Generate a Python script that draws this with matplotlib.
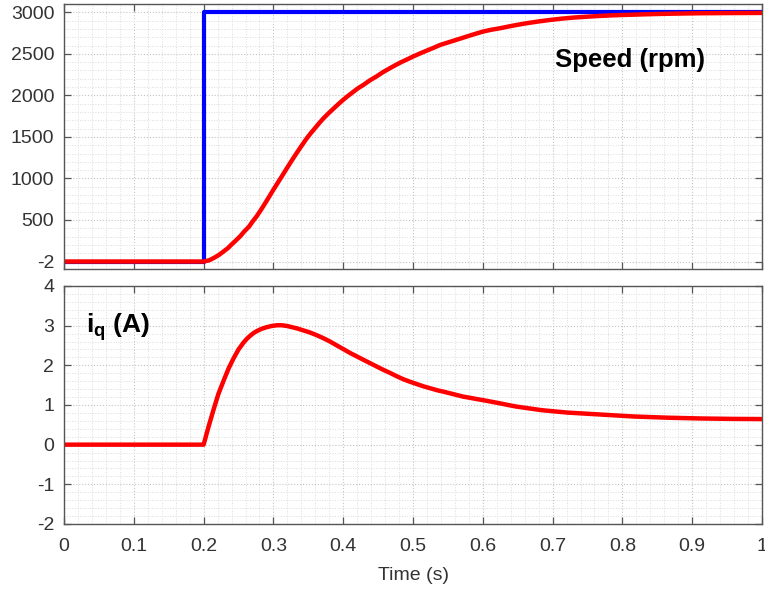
import matplotlib.pyplot as plt
from matplotlib.ticker import MultipleLocator

plt.rcParams['font.family'] = ['Liberation Sans', 'DejaVu Sans']
plt.rcParams['mathtext.fontset'] = 'custom'
plt.rcParams['mathtext.bf'] = 'Liberation Sans:bold'
plt.rcParams['mathtext.rm'] = 'Liberation Sans'
plt.rcParams['axes.unicode_minus'] = False

# ---------------- Data ---------------- #

ref_t = [0.0, 0.2, 0.2, 1.0]
ref_speed = [0, 0, 3000, 3000]

speed_t = [0.0, 0.2, 0.208, 0.215, 0.222, 0.229, 0.235, 0.24, 0.246, 0.2525,
           0.258, 0.265, 0.27, 0.276, 0.282, 0.288, 0.294, 0.300,
           0.306, 0.312, 0.318, 0.324, 0.330, 0.336, 0.342, 0.348, 0.354,
           0.36, 0.366, 0.372, 0.379, 0.386, 0.393, 0.4, 0.407, 0.414, 0.421,
           0.429, 0.438, 0.448, 0.457, 0.467, 0.475, 0.483, 0.492, 0.5, 0.51,
           0.52, 0.53, 0.539, 0.555, 0.57, 0.585, 0.6, 0.612, 0.625, 0.642,
           0.66, 0.678, 0.697, 0.713, 0.73, 0.75, 0.768, 0.784, 0.80, 0.82,
           0.84, 0.86, 0.88, 0.911, 0.95, 1.0]
speed_rpm = [0, 0, 15, 45, 80, 124, 163, 205, 252, 305,
             360, 420, 480, 545, 620, 700, 782, 865,
             945, 1025, 1106, 1186, 1264, 1340, 1414, 1486, 1550,
             1610, 1670, 1727, 1785, 1840, 1895, 1947, 1995, 2040, 2085,
             2127, 2180, 2230, 2280, 2328, 2365, 2400, 2435, 2468, 2505,
             2540, 2575, 2608, 2650, 2690, 2730, 2768, 2790, 2809, 2838,
             2865, 2888, 2909, 2924, 2937, 2948, 2957, 2963, 2968, 2973,
             2978, 2982, 2985, 2989, 2991, 2993]

iq_t = [0.0, 0.2, 0.207, 0.214, 0.221, 0.229, 0.236, 0.243, 0.25, 0.257,
        0.262, 0.267, 0.272, 0.277, 0.283, 0.29, 0.297, 0.305, 0.312, 0.32,
        0.327, 0.334, 0.343, 0.352, 0.362, 0.372, 0.381, 0.39, 0.40, 0.41,
        0.42, 0.43, 0.439, 0.448, 0.457, 0.467, 0.476, 0.486, 0.495, 0.505,
        0.515, 0.525, 0.535, 0.545, 0.554, 0.563, 0.572, 0.582, 0.591, 0.601,
        0.613, 0.625, 0.636, 0.648, 0.66, 0.672, 0.684, 0.696, 0.708, 0.72,
        0.744, 0.768, 0.792, 0.816, 0.84, 0.864, 0.888, 0.912, 0.955, 1.0]
iq_amp = [0.0, 0.0, 0.45, 0.87, 1.27, 1.63, 1.93, 2.18, 2.40, 2.57,
          2.67, 2.75, 2.82, 2.87, 2.92, 2.96, 2.99, 3.01, 3.01, 2.99,
          2.96, 2.93, 2.88, 2.83, 2.76, 2.68, 2.60, 2.51, 2.41, 2.31,
          2.22, 2.13, 2.05, 1.97, 1.89, 1.81, 1.73, 1.65, 1.59, 1.53,
          1.47, 1.42, 1.37, 1.33, 1.29, 1.25, 1.21, 1.18, 1.15, 1.12,
          1.08, 1.04, 1.00, 0.96, 0.93, 0.90, 0.87, 0.85, 0.83, 0.81,
          0.785, 0.76, 0.735, 0.71, 0.695, 0.68, 0.67, 0.66, 0.65, 0.645]

speed_ticks = [0, 500, 1000, 1500, 2000, 2500, 3000]
speed_ticklabels = ['-2', '500', '1000', '1500', '2000', '2500', '3000']
iq_ticks = [-2, -1, 0, 1, 2, 3, 4]
time_ticks = [0, 0.1, 0.2, 0.3, 0.4, 0.5, 0.6, 0.7, 0.8, 0.9, 1.0]
time_ticklabels = ['0', '0.1', '0.2', '0.3', '0.4', '0.5', '0.6', '0.7',
                   '0.8', '0.9', '1']

# ---------------- Figure ---------------- #

fig = plt.figure(figsize=(7.65, 5.92), dpi=100)
ax1 = fig.add_axes([0.0837, 0.5456, 0.9124, 0.4476])
ax2 = fig.add_axes([0.0837, 0.1149, 0.9124, 0.4020])

axis_color = '#555555'
text_color = '#333333'


def style_axes(ax):
    ax.set_xlim(0, 1)
    ax.set_xticks(time_ticks)
    ax.xaxis.set_minor_locator(MultipleLocator(0.02))
    ax.tick_params(which='both', direction='in', top=True, right=True,
                   color=axis_color, labelsize=14, labelcolor=text_color)
    ax.tick_params(which='major', length=5, width=0.9, pad=7)
    ax.tick_params(axis='x', which='major', pad=10)
    ax.tick_params(which='minor', length=0)
    ax.grid(which='major', linestyle=':', color='#c4c4c4', linewidth=0.8)
    ax.grid(which='minor', linestyle=':', color='#dcdcdc', linewidth=0.7)
    ax.set_axisbelow(True)
    for sp in ax.spines.values():
        sp.set_color(axis_color)
        sp.set_linewidth(1.0)


# ---------------- Speed ---------------- #

style_axes(ax1)
ax1.plot(ref_t, ref_speed, color='blue', linewidth=3.0)
ax1.plot(speed_t, speed_rpm, color='red', linewidth=3.2)
ax1.set_ylim(-90, 3100)
ax1.set_yticks(speed_ticks)
ax1.set_yticklabels(speed_ticklabels)
ax1.yaxis.set_minor_locator(MultipleLocator(100))
ax1.set_xticklabels([])
ax1.text(0.703, 2430, 'Speed (rpm)', fontsize=18.5, fontweight='bold',
         color='black', va='center', ha='left')

# ---------------- iq ---------------- #

style_axes(ax2)
ax2.plot(iq_t, iq_amp, color='red', linewidth=3.2)
ax2.set_ylim(-2, 4)
ax2.set_yticks(iq_ticks)
ax2.yaxis.set_minor_locator(MultipleLocator(0.2))
ax2.set_xticklabels(time_ticklabels)
ax2.set_xlabel('Time (s)', fontsize=14, color=text_color, labelpad=9)
ax2.text(0.032, 2.95, r'$\mathbf{i_q}$ $\mathbf{(A)}$', fontsize=19,
         color='black', va='center', ha='left')

fig.savefig('out.png', dpi=100)
